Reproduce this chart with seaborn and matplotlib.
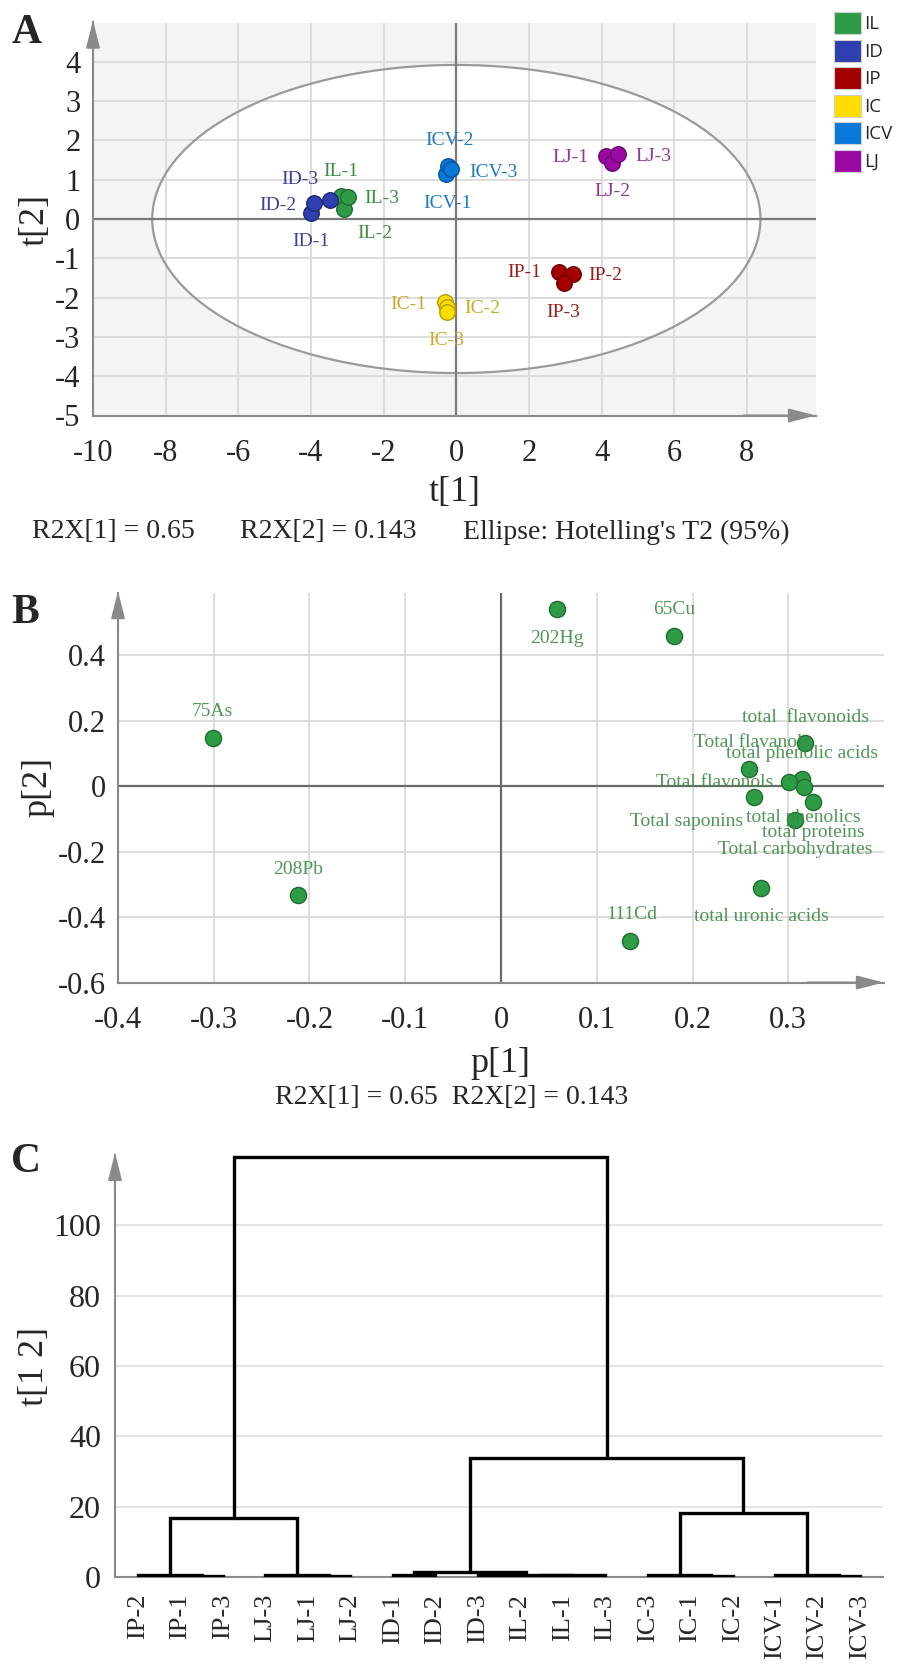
import matplotlib
matplotlib.use("Agg")
import matplotlib.pyplot as plt
from matplotlib.patches import Ellipse, Patch
from matplotlib.ticker import MultipleLocator
import seaborn as sns
import pandas as pd

# ---- panel A: PCA scores ----
score_names = ["IL-1", "IL-2", "IL-3", "ID-1", "ID-2", "ID-3", "IP-1", "IP-2", "IP-3",
               "IC-1", "IC-2", "IC-3", "ICV-1", "ICV-2", "ICV-3", "LJ-1", "LJ-2", "LJ-3"]
t1 = [-3.18, -3.09, -2.98, -4.00, -3.92, -3.48, 2.82, 3.20, 2.96,
      -0.30, -0.25, -0.25, -0.28, -0.22, -0.14, 4.12, 4.28, 4.45]
t2 = [0.58, 0.25, 0.56, 0.15, 0.41, 0.48, -1.35, -1.40, -1.63,
      -2.10, -2.24, -2.37, 1.15, 1.35, 1.27, 1.60, 1.43, 1.65]
groups = ["IL", "ID", "IP", "IC", "ICV", "LJ"]
ellipse_t1, ellipse_t2 = 8.37, 3.92   # Hotelling's T2 (95%) half axes
r2x_1, r2x_2 = 0.65, 0.143

# ---- panel B: loadings ----
load_names = ["75As", "208Pb", "202Hg", "65Cu", "111Cd", "total  flavonoids", "Total flavanols",
              "total phenolic acids", "Total flavonols", "Total saponins", "total phenolics",
              "total proteins", "Total carbohydrates", "total uronic acids"]
p1 = [-0.301, -0.212, 0.058, 0.181, 0.135, 0.318, 0.259, 0.314, 0.301, 0.264, 0.316, 0.326, 0.307, 0.272]
p2 = [0.147, -0.333, 0.540, 0.458, -0.473, 0.131, 0.052, 0.021, 0.012, -0.034, -0.003, -0.049, -0.104, -0.311]

# ---- panel C: dendrogram ----
leaves = ["IP-2", "IP-1", "IP-3", "LJ-3", "LJ-1", "LJ-2", "ID-1", "ID-2", "ID-3",
          "IL-2", "IL-1", "IL-3", "IC-3", "IC-1", "IC-2", "ICV-1", "ICV-2", "ICV-3"]
# merges: node ids >= len(leaves) refer to earlier merges
merge_a = [1, 0, 4, 3, 19, 6, 9, 24, 8, 23, 13, 12, 16, 15, 29, 27, 22]
merge_b = [2, 18, 5, 20, 21, 7, 10, 11, 25, 26, 14, 28, 17, 30, 31, 32, 33]
merge_h = [0.4, 0.6, 0.4, 0.6, 16.8, 0.6, 0.3, 0.5, 0.6, 1.4, 0.3, 0.5, 0.3, 0.5, 18.2, 33.8, 119.3]

fill = {"IL": "#2e9c45", "ID": "#2f3fae", "IP": "#a50000", "IC": "#ffdd00", "ICV": "#0a78d8", "LJ": "#9a0aa3"}
edge = {"IL": "#1f6b30", "ID": "#1e2a78", "IP": "#6e0000", "IC": "#b89b00", "ICV": "#0654a0", "LJ": "#6a0570"}
txtc = {"IL": "#3d8b45", "ID": "#3a3f9a", "IP": "#9a1c1c", "IC": "#c9a928", "ICV": "#1f7ac2", "LJ": "#8e3596"}

# label offsets in pixels (dx, dy down, ha)
offA = {"ID-1": (0, 28, "center"), "ID-2": (-17, 3, "right"), "ID-3": (-11, -21, "right"),
        "IL-1": (0, -25, "center"), "IL-3": (16, 2, "left"), "IL-2": (13, 24, "left"),
        "ICV-2": (1, -25, "center"), "ICV-3": (18, 3, "left"), "ICV-1": (1, 30, "center"),
        "LJ-1": (-17, 1, "right"), "LJ-3": (17, 2, "left"), "LJ-2": (1, 29, "center"),
        "IP-1": (-18, 0, "right"), "IP-2": (16, 1, "left"), "IP-3": (-1, 29, "center"),
        "IC-1": (-19, 3, "right"), "IC-2": (17, 1, "left"), "IC-3": (-1, 28, "center")}
offB = {"75As": (0, -26, "center"), "208Pb": (0, -26, "center"), "202Hg": (0, 29, "center"),
        "65Cu": (0, -27, "center"), "111Cd": (1, -26, "center"), "total  flavonoids": (0, -26, "center"),
        "Total flavanols": (3, -27, "center"), "total phenolic acids": (0, -26, "center"),
        "Total flavonols": (-16, 0, "right"), "Total saponins": (-11, 24, "right"),
        "total phenolics": (0, 30, "center"), "total proteins": (0, 30, "center"),
        "Total carbohydrates": (0, 29, "center"), "total uronic acids": (0, 29, "center")}

sns.set_style("white")
plt.rcParams["font.family"] = ["Liberation Serif", "DejaVu Serif"]
plt.rcParams["axes.unicode_minus"] = False

W, H = 899, 1673
AXC = "#8a8a8a"
GRID = "#dadada"
fig = plt.figure(figsize=(W / 100, H / 100), dpi=100)


def box(l, t, r, b):
    return [l / W, 1 - b / H, (r - l) / W, (b - t) / H]


def ftext(x, y, s, **kw):
    fig.text(x / W, 1 - y / H, s, **kw)


def style_axes(ax, lsize):
    for s in ["top", "right"]:
        ax.spines[s].set_visible(False)
    for s in ["left", "bottom"]:
        ax.spines[s].set_color(AXC)
        ax.spines[s].set_linewidth(1.5)
    ax.tick_params(which="major", length=6, width=1.3, color=AXC, labelsize=lsize)
    ax.tick_params(which="minor", length=3.5, width=1.2, color=AXC)
    ax.set_xlabel("")
    ax.set_ylabel("")


def arrows(ax, right=True):
    kw = dict(arrowstyle="-|>,head_length=1.1,head_width=0.28", color=AXC, lw=1.5,
              shrinkA=0, shrinkB=0, mutation_scale=15)
    ax.annotate("", xy=(0, 1.005), xytext=(0, 0.9), xycoords="axes fraction",
                arrowprops=kw, annotation_clip=False)
    if right:
        ax.annotate("", xy=(1.0, 0), xytext=(0.9, 0), xycoords="axes fraction",
                    arrowprops=kw, annotation_clip=False)


# ================= A =================
axA = fig.add_axes(box(93, 22.5, 816, 415.5))
axA.set_facecolor("#f4f4f4")
axA.add_patch(Ellipse((0, 0), 2 * ellipse_t1, 2 * ellipse_t2, facecolor="white", edgecolor="none", zorder=0.1))
axA.add_patch(Ellipse((0, 0), 2 * ellipse_t1, 2 * ellipse_t2, facecolor="none", edgecolor="#9a9a9a", lw=1.6, zorder=1.5))
dfA = pd.DataFrame({"name": score_names, "t1": t1, "t2": t2})
dfA["group"] = dfA["name"].str.split("-").str[0]
for g in groups:
    sub = dfA[dfA["group"] == g]
    sns.scatterplot(data=sub, x="t1", y="t2", color=fill[g], edgecolor=edge[g], linewidth=1,
                    s=125, ax=axA, zorder=3, legend=False)
for _, r in dfA.iterrows():
    dx, dy, ha = offA[r["name"]]
    axA.annotate(r["name"], (r["t1"], r["t2"]), xytext=(dx * 0.72, -dy * 0.72), textcoords="offset points",
                 ha=ha, va="center", fontsize=14, color=txtc[r["group"]], zorder=4)
axA.axhline(0, color="#7a7a7a", lw=1.6, zorder=1.6)
axA.axvline(0, color="#7a7a7a", lw=1.6, zorder=1.6)
axA.set_xlim(-10, 9.9)
axA.set_ylim(-5, 5)
axA.set_xticks(range(-10, 9, 2))
axA.set_yticks(range(-5, 5))
axA.xaxis.set_minor_locator(MultipleLocator(1))
axA.yaxis.set_minor_locator(MultipleLocator(0.5))
axA.grid(True, which="major", color=GRID, lw=1.3)
axA.set_axisbelow(True)
style_axes(axA, 22)
axA.tick_params(axis="x", which="major", pad=11)
axA.tick_params(axis="y", which="major", pad=3)
arrows(axA)

handles = [Patch(facecolor=fill[g], edgecolor="#cfcfcf", lw=0.8) for g in groups]
fig.legend(handles, groups, loc="upper left", bbox_to_anchor=(834 / W, 1 - 12 / H), frameon=False,
           borderpad=0, borderaxespad=0, handlelength=1.45, handleheight=1.45, labelspacing=0.28,
           handletextpad=0.15, prop={"family": "Open Sans", "size": 13.5})

ftext(27, 33, "A", fontsize=30, fontweight="bold", ha="center", va="center")
ftext(35, 220, "t[2]", fontsize=26, rotation=90, ha="center", va="center")
ftext(455, 493, "t[1]", fontsize=26, ha="center", va="center")
ftext(32, 532, f"R2X[1] = {r2x_1}", fontsize=20, ha="left", va="center")
ftext(240, 532, f"R2X[2] = {r2x_2}", fontsize=20, ha="left", va="center")
ftext(463, 532, "Ellipse: Hotelling's T2 (95%)", fontsize=20, ha="left", va="center")

# ================= B =================
axB = fig.add_axes(box(118, 593, 884, 982.5))
dfB = pd.DataFrame({"name": load_names, "p1": p1, "p2": p2})
sns.scatterplot(data=dfB, x="p1", y="p2", color="#2e9c45", edgecolor="#1f6b30", linewidth=1,
                s=135, ax=axB, zorder=3, legend=False)
for _, r in dfB.iterrows():
    dx, dy, ha = offB[r["name"]]
    axB.annotate(r["name"], (r["p1"], r["p2"]), xytext=(dx * 0.72, -dy * 0.72), textcoords="offset points",
                 ha=ha, va="center", fontsize=14, color="#3d8b45", alpha=0.9, zorder=4)
axB.axhline(0, color="#6a6a6a", lw=1.6, zorder=1.6)
axB.axvline(0, color="#6a6a6a", lw=1.6, zorder=1.6)
axB.set_xlim(-0.4, 0.4)
axB.set_ylim(-0.6, 0.59)
axB.set_xticks([-0.4, -0.3, -0.2, -0.1, 0, 0.1, 0.2, 0.3])
axB.set_xticklabels(["-0.4", "-0.3", "-0.2", "-0.1", "0", "0.1", "0.2", "0.3"])
axB.set_yticks([-0.6, -0.4, -0.2, 0, 0.2, 0.4])
axB.set_yticklabels(["-0.6", "-0.4", "-0.2", "0", "0.2", "0.4"])
axB.xaxis.set_minor_locator(MultipleLocator(0.05))
axB.yaxis.set_minor_locator(MultipleLocator(0.1))
axB.grid(True, which="major", color=GRID, lw=1.3)
axB.set_axisbelow(True)
style_axes(axB, 22)
axB.tick_params(axis="x", which="major", pad=11)
axB.tick_params(axis="y", which="major", pad=3)
arrows(axB)

ftext(25, 613, "B", fontsize=30, fontweight="bold", ha="center", va="center")
ftext(38, 787, "p[2]", fontsize=26, rotation=90, ha="center", va="center")
ftext(500, 1063, "p[1]", fontsize=26, ha="center", va="center")
ftext(452, 1097, f"R2X[1] = {r2x_1}  R2X[2] = {r2x_2}", fontsize=20, ha="center", va="center")

# ================= C =================
axC = fig.add_axes(box(115, 1155, 883, 1577))
n = len(leaves)
pos = {i: float(i) for i in range(n)}
hgt = {i: 0.0 for i in range(n)}
for k, (a, b, h) in enumerate(zip(merge_a, merge_b, merge_h)):
    xa, xb = pos[a], pos[b]
    axC.plot([xa, xa, xb, xb], [hgt[a], h, h, hgt[b]], color="black", lw=2.4,
             solid_joinstyle="miter", zorder=3)
    pos[n + k] = (xa + xb) / 2
    hgt[n + k] = h
axC.set_xlim(-0.54, n - 1 + 0.54)
axC.set_ylim(0, 120)
axC.set_xticks(range(n))
axC.set_xticklabels(leaves, rotation=90, fontsize=19)
axC.set_yticks(range(0, 101, 20))
axC.yaxis.set_minor_locator(MultipleLocator(5))
axC.yaxis.grid(True, which="major", color="#e4e4e4", lw=1.5)
axC.set_axisbelow(True)
style_axes(axC, 23)
axC.tick_params(axis="x", which="major", labelsize=19, length=7, pad=5)
axC.tick_params(axis="y", which="major", pad=4)
arrows(axC, right=False)

ftext(26, 1162, "C", fontsize=30, fontweight="bold", ha="center", va="center")
ftext(34, 1367, "t[1 2]", fontsize=26, rotation=90, ha="center", va="center")

fig.savefig("out.png", dpi=100)
